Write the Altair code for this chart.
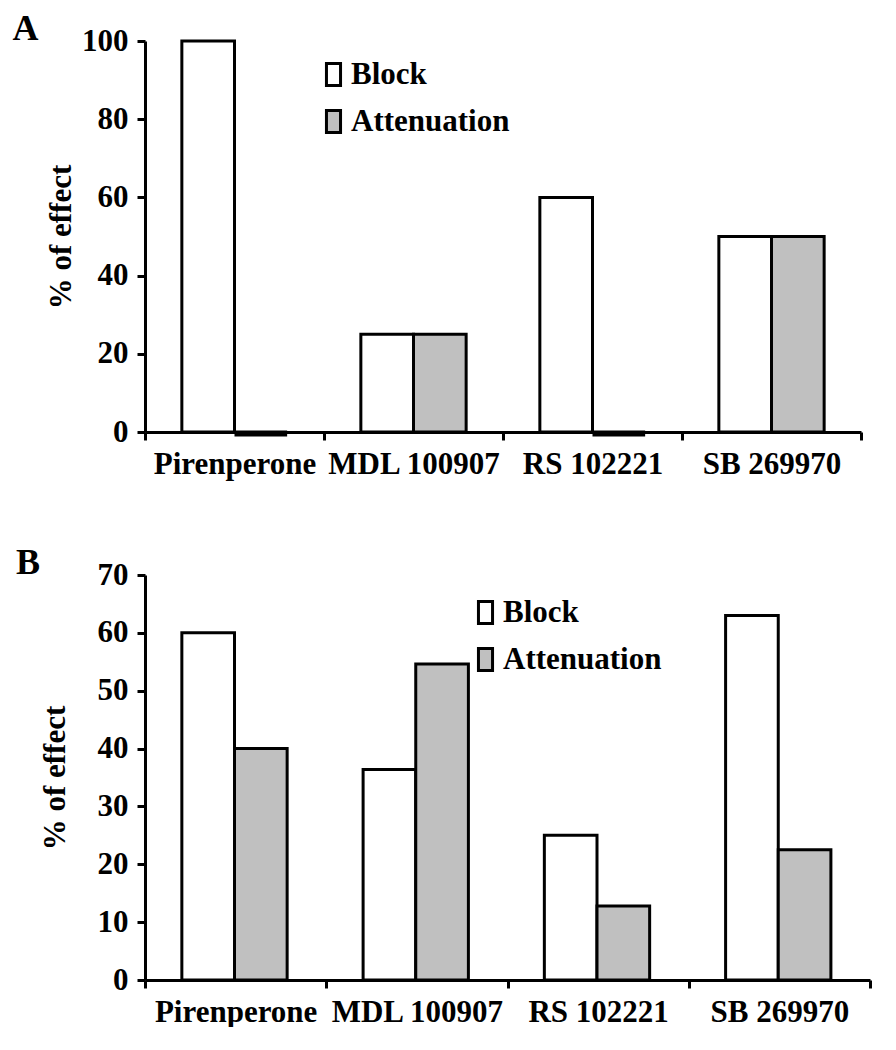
import altair as alt
import pandas as pd

categories = ["Pirenperone", "MDL 100907", "RS 102221", "SB 269970"]
series = ["Block", "Attenuation"]
a_block = [100, 25, 60, 50]
a_atten = [0, 25, 0, 50]
b_block = [60, 36.4, 25, 63]
b_atten = [40, 54.6, 12.8, 22.5]
a_ticks = [0, 20, 40, 60, 80, 100]
b_ticks = [0, 10, 20, 30, 40, 50, 60, 70]

FONT = "Liberation Serif"
FS = 31


def frame(block, atten):
    rows = []
    for c, b, a in zip(categories, block, atten):
        rows.append({"drug": c, "series": "Block", "value": b})
        rows.append({"drug": c, "series": "Attenuation", "value": a})
    return pd.DataFrame(rows)


def panel(df, letter, ymax, ticks, w, h, title_pad, lx, ly, tdx):
    x = alt.X("drug:N", sort=categories,
              scale=alt.Scale(paddingInner=0, paddingOuter=0),
              axis=alt.Axis(title=None, labelAngle=0, tickBand="extent",
                            labelPadding=9))
    xo = alt.XOffset("series:N", sort=series,
                     scale=alt.Scale(paddingInner=0, paddingOuter=0.7))
    y = alt.Y("value:Q", scale=alt.Scale(domain=[0, ymax], nice=False),
              axis=alt.Axis(values=ticks, title="% of effect",
                            titlePadding=title_pad, labelPadding=9))
    bars = alt.Chart(df).mark_bar(stroke="black", strokeWidth=3).encode(
        x=x, xOffset=xo, y=y,
        color=alt.Color("series:N", sort=series,
                        scale=alt.Scale(domain=series, range=["white", "#c0c0c0"]),
                        legend=alt.Legend(
                            title=None, orient="none", legendX=lx, legendY=ly,
                            symbolType="M-0.64,-1H0.64V1H-0.64Z",
                            symbolSize=484, symbolStrokeColor="black",
                            symbolStrokeWidth=3, labelFont=FONT,
                            labelFontSize=FS, labelFontWeight="bold",
                            labelColor="black", rowPadding=12, padding=0,
                            labelOffset=2, labelLimit=0)),
    )
    zero = alt.Chart(df).transform_filter("datum.value == 0").mark_bar(
        stroke="black", strokeWidth=5, fill="black", yOffset=2
    ).encode(x=x, xOffset=xo, y=y)
    return alt.layer(bars, zero).properties(
        width=w, height=h,
        title=alt.Title(letter, anchor="start", fontSize=36, font=FONT,
                        fontWeight="bold", color="black", dx=tdx, offset=-51,
                        baseline="alphabetic"),
    )


a = panel(frame(a_block, a_atten), "A", 100, a_ticks, 716, 391, 4, 173, 18, -33)
b = panel(frame(b_block, b_atten), "B", 70, b_ticks, 725, 405, 26, 325, 22, -23)

chart = alt.vconcat(a, b, spacing=66).resolve_scale(
    color="independent"
).resolve_legend(color="independent").properties(
    padding={"left": 4, "top": 3, "right": 5, "bottom": 0}
).configure_axis(
    labelFont=FONT, labelFontSize=FS, labelFontWeight="bold", labelColor="black",
    titleFont=FONT, titleFontSize=FS, titleFontWeight="bold", titleColor="black",
    domainColor="black", domainWidth=3, tickColor="black", tickWidth=3,
    tickSize=8, grid=False,
).configure_view(stroke=None)

chart.save("out.html", embed_options={"renderer": "svg", "actions": False})
